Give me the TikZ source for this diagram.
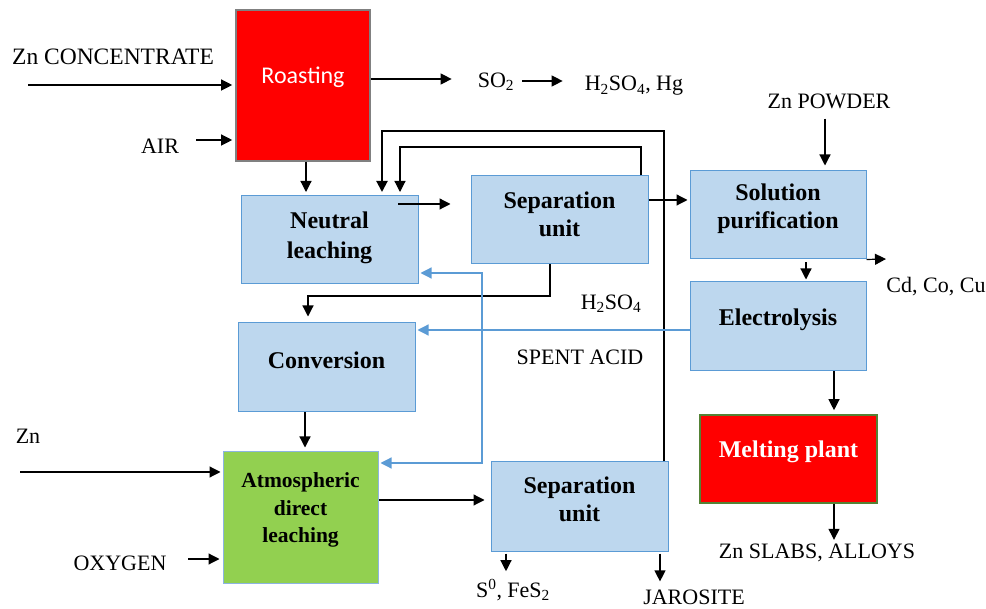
\documentclass[tikz,border=0pt]{standalone}
\usepackage{fontspec}
\setmainfont{Liberation Serif}
\newfontfamily\calib{Carlito}
\usetikzlibrary{arrows.meta,calc}
\definecolor{boxfill}{HTML}{BDD7EE}
\definecolor{boxline}{HTML}{5B9BD5}
\definecolor{redfill}{HTML}{FF0000}
\definecolor{greenfill}{HTML}{92D050}
\definecolor{mpline}{HTML}{548235}
\definecolor{adlline}{HTML}{8DB4E2}
\begin{document}
\begin{tikzpicture}[x=1pt,y=-1pt,
  arr/.style={-{Triangle[length=11pt,width=11pt]}, line width=1.2pt, black},
  barr/.style={-{Triangle[length=11pt,width=11pt]}, line width=1.2pt, boxline},
  bbox/.style={draw=boxline, fill=boxfill, line width=1pt, minimum width=177pt, minimum height=88pt, inner sep=0pt},
  lab/.style={font=\fontsize{22}{26}\selectfont, inner sep=0pt},
  btxt/.style={font=\fontsize{24}{30}\selectfont\bfseries, align=center, inner sep=0pt},
]
\useasboundingbox (0,0) rectangle (986,609);

% boxes
\node[bbox, fill=redfill, draw=gray, line width=1.6pt, minimum width=134pt, minimum height=151pt] (roast) at (303,85.5) {};
\node[font=\calib\fontsize{24}{28}\selectfont, text=white, inner sep=0pt] (roastt) at (303,77) {Roasting};

\node[bbox] (nl) at (329.5,239.5) {};
\node[btxt] (nlt) at (329.5,238) {Neutral\\leaching};

\node[bbox, minimum height=88pt] (sep1) at (559.5,220) {};
\node[btxt, font=\fontsize{24}{28}\selectfont\bfseries] (sep1t) at (559.5,214) {Separation\\unit};

\node[bbox, minimum width=176pt] (sp) at (778,215) {};
\node[btxt, font=\fontsize{24}{28}\selectfont\bfseries] (spt) at (778,209) {Solution\\purification};

\node[bbox, minimum width=176pt, minimum height=89pt] (el) at (778,326.5) {};
\node[btxt] (elt) at (778,320) {Electrolysis};

\node[bbox, fill=redfill, draw=mpline, line width=1.6pt] (mp) at (788.5,459) {};
\node[btxt, text=white] (mpt) at (788.5,452) {Melting plant};

\node[bbox, minimum height=89pt] (conv) at (326.5,367.5) {};
\node[btxt] (convt) at (326.5,360) {Conversion};

\node[bbox, fill=greenfill, draw=adlline, minimum width=155pt, minimum height=131pt] (adl) at (300.5,517.5) {};
\node[btxt, font=\fontsize{21.5}{27.5}\selectfont\bfseries] (adlt) at (300.5,510) {Atmospheric\\direct\\leaching};

\node[bbox, minimum height=89pt] (sep2) at (579.5,506.5) {};
\node[btxt, font=\fontsize{24}{28}\selectfont\bfseries] (sep2t) at (579.5,499) {Separation\\unit};

% labels
\node[lab, font=\fontsize{23.5}{28}\selectfont] (zncon) at (113,57) {Zn CONCENTRATE};
\node[lab] (air) at (160,146) {AIR};
\node[lab] (so2) at (496,82) {SO\textsubscript{2}};
\node[lab] (h2hg) at (634,86) {H\textsubscript{2}SO\textsubscript{4}, Hg};
\node[lab] (znp) at (829,101) {Zn POWDER};
\node[lab] (cdco) at (936,287) {Cd, Co, Cu};
\node[lab] (h2so4) at (611,304) {H\textsubscript{2}SO\textsubscript{4}};
\node[lab] (spent) at (580,357) {SPENT ACID};
\node[lab] (zn) at (28,436) {Zn};
\node[lab] (oxy) at (120,563) {OXYGEN};
\node[lab] (sfes) at (513,590) {S\textsuperscript{0}, FeS\textsubscript{2}};
\node[lab] (jaro) at (694,597) {JAROSITE};
\node[lab] (slabs) at (817,553) {Zn SLABS, ALLOYS};

% free ends
\coordinate (zcin) at (28,85);
\coordinate (airin) at (196,140);
\coordinate (znin) at (20,472);
\coordinate (oxin) at (188,559);
\coordinate (cdout) at (886,259);
\coordinate (nlin) at (398,204);

% black connectors
\draw[arr, shorten >=3pt] (zcin) -- (roast.west |- zcin);
\draw[arr, shorten >=3pt] (airin) -- (roast.west |- airin);
\draw[arr, shorten >=26pt] (roast.east |- 0,79) -- (so2.west |- 0,79);
\draw[arr, shorten <=8pt, shorten >=22pt] (so2.east |- 0,81) -- (h2hg.west |- 0,81);
\draw[arr, shorten >=3pt] (roast.south -| 306,0) -- (nl.north -| 306,0);
\draw[arr, line width=2pt, shorten >=3pt] (sep2.north -| 664,0) -- (664,131) -- (382,131) -- (nl.north -| 382,0);
\draw[arr, shorten >=3pt] (sep1.north -| 641,0) -- (641,147) -- (400,147) -- (nl.north -| 400,0);
\draw[arr, shorten >=20pt] (nlin) -- (sep1.west |- nlin);
\draw[arr, shorten >=2pt] (sep1.east |- 0,200) -- (sp.west |- 0,200);
\draw[arr, shorten <=10pt, shorten >=5pt] (znp.south -| 825,0) -- (sp.north -| 825,0);
\draw[arr] (sp.south east) -- (cdout);
\draw[arr, shorten <=3pt, shorten >=2pt] (sp.south -| 806,0) -- (el.north -| 806,0);
\draw[arr, shorten >=4pt] (el.south -| 834,0) -- (mp.north -| 834,0);
\draw[arr, shorten >=4pt] (mp.south -| 834,0) -- (slabs.north -| 834,0);
\draw[arr, shorten >=6pt] (sep1.south -| 550,0) -- (550,296) -- (308,296) -- (conv.north -| 308,0);
\draw[arr, shorten >=4pt] (conv.south -| 305,0) -- (adl.north -| 305,0);
\draw[arr, shorten >=2pt] (znin) -- (adl.west |- znin);
\draw[arr, shorten >=3pt] (oxin) -- (adl.west |- oxin);
\draw[arr, shorten >=6pt] (adl.east |- 0,500) -- (sep2.west |- 0,500);
\draw[arr, shorten <=2pt, shorten >=8pt] (sep2.south -| 506,0) -- (sfes.north -| 506,0);
\draw[arr, shorten <=2pt, shorten >=8pt] (sep2.south -| 660,0) -- (jaro.north -| 660,0);

% blue connectors
\coordinate (bj) at (482,330);
\draw[barr, shorten >=2pt] (el.west |- bj) -- (conv.east |- bj);
\draw[barr, shorten >=2pt] (bj) -- (482,273) -- (nl.east |- 0,273);
\draw[barr, shorten >=2pt] (bj) -- (482,463) -- (adl.east |- 0,463);
\end{tikzpicture}
\end{document}
